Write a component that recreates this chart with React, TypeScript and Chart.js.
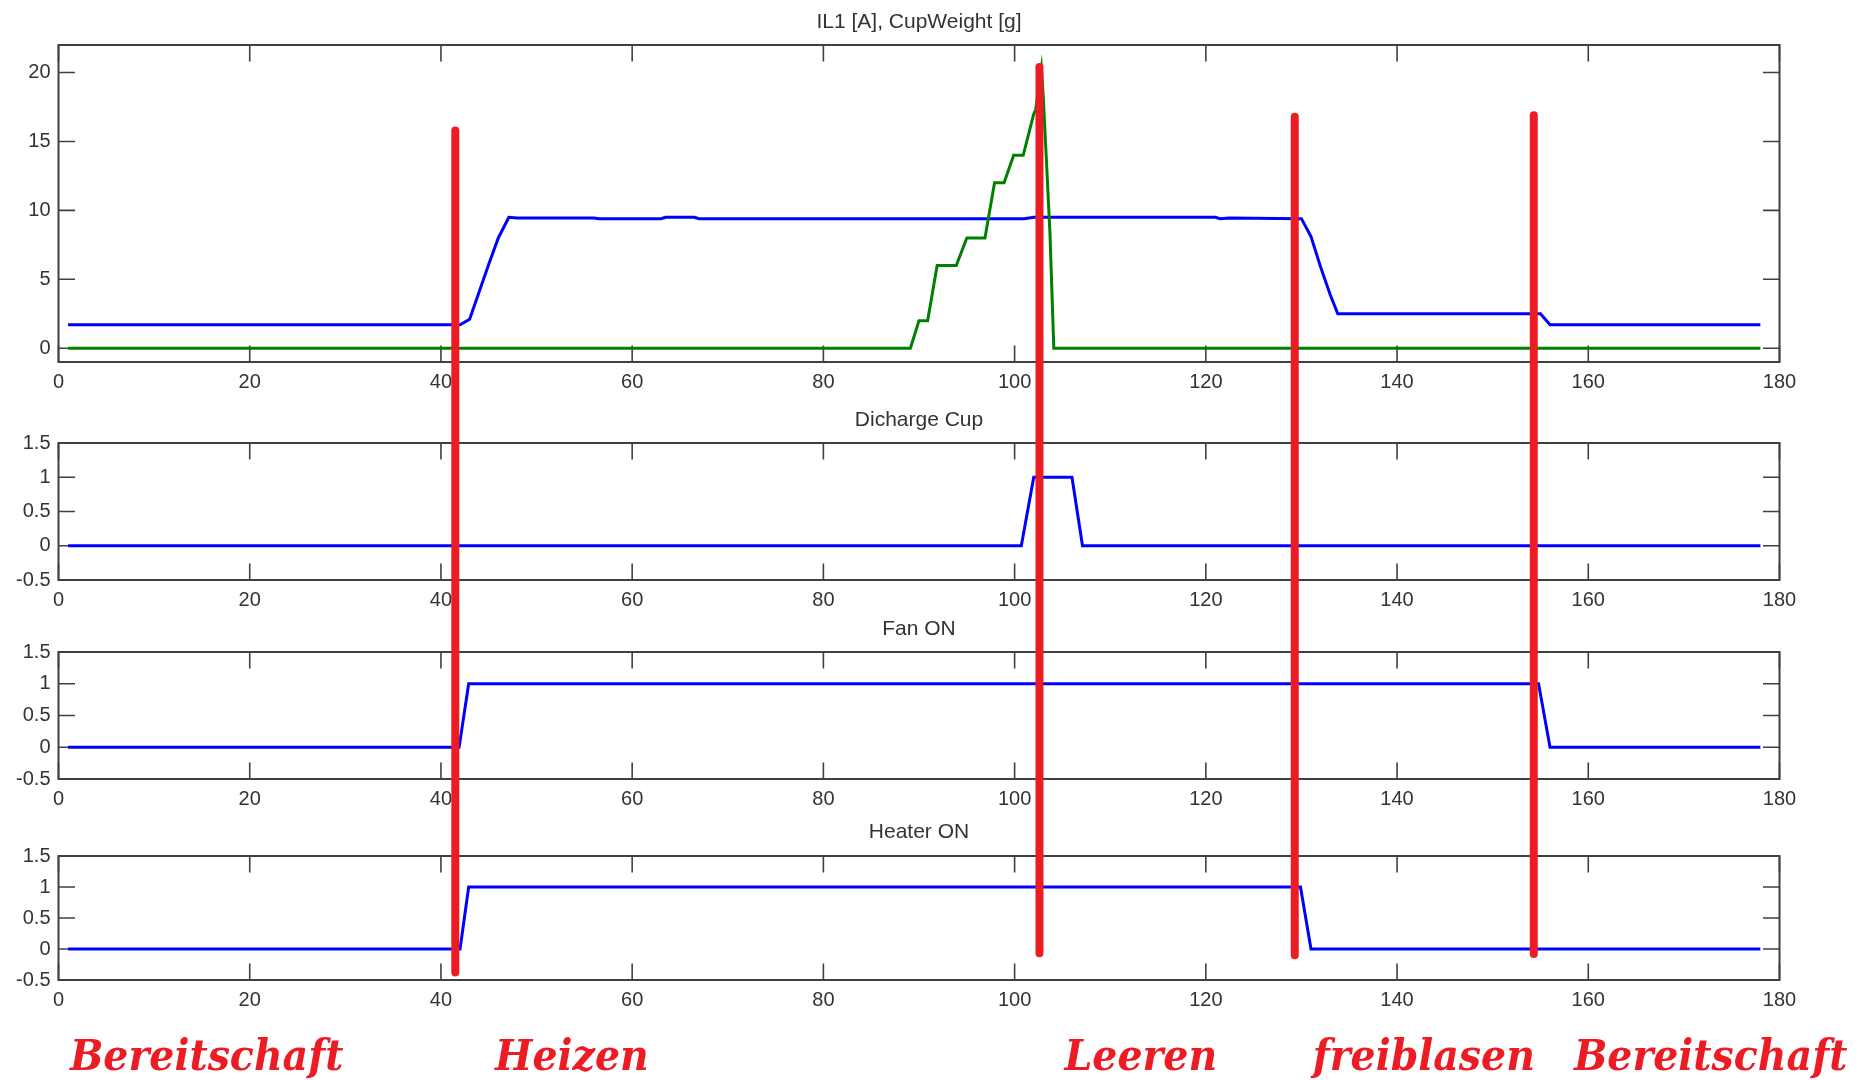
import React, { useEffect, useRef } from 'react';
import { Chart, registerables } from 'chart.js';

Chart.register(...registerables);

// ---------------- data ----------------
const TIME_TICKS = [0, 20, 40, 60, 80, 100, 120, 140, 160, 180];
const IL1_TICKS = [0, 5, 10, 15, 20];
const BINARY_TICKS = [-0.5, 0, 0.5, 1, 1.5];

const PANEL_TITLES = ['IL1 [A], CupWeight [g]', 'Dicharge Cup', 'Fan ON', 'Heater ON'];

// IL1 current [A]
const IL1_TIME = [1, 42, 43, 44, 45, 46, 47.1, 48, 56, 56.5, 63, 63.5, 66.5, 67, 101, 102, 121, 121.5, 122.5, 130, 131, 132, 133, 133.8, 155, 156, 178];
const IL1_VALUES = [1.7, 1.7, 2.1, 4.1, 6.1, 8.0, 9.5, 9.45, 9.45, 9.4, 9.4, 9.5, 9.5, 9.4, 9.4, 9.5, 9.5, 9.4, 9.45, 9.4, 8.1, 5.9, 3.9, 2.5, 2.5, 1.7, 1.7];

// Cup weight [g]
const CUP_TIME = [1, 89.1, 90, 90.9, 91.9, 93.9, 95, 96.9, 97.9, 98.9, 99.9, 100.9, 102, 102.2, 102.8, 103.0, 103.3, 103.7, 104.1, 178];
const CUP_VALUES = [0, 0, 2, 2, 6, 6, 8, 8, 12, 12, 14, 14, 17, 17.3, 20.3, 18.2, 14, 8.3, 0, 0];

const DISCHARGE_TIME = [1, 100.7, 102, 106, 107.1, 178];
const DISCHARGE_VALUES = [0, 0, 1, 1, 0, 0];

const FAN_TIME = [1, 41.9, 42.9, 154.8, 156, 178];
const FAN_VALUES = [0, 0, 1, 1, 0, 0];

const HEATER_TIME = [1, 42, 42.9, 129.9, 131, 178];
const HEATER_VALUES = [0, 0, 1, 1, 0, 0];

// phase markers (red lines): time, top in IL1 units, bottom in Heater units
const PHASE_TIME = [41.5, 102.6, 129.3, 154.3];
const PHASE_TOP = [15.8, 20.4, 16.8, 16.9];
const PHASE_BOTTOM = [-0.38, -0.07, -0.1, -0.08];

const PHASE_LABELS = ['Bereitschaft', 'Heizen', 'Leeren', 'freiblasen', 'Bereitschaft'];
const PHASE_LABEL_TIME = [15.5, 53.7, 113.2, 142.8, 172.8];

// ---------------- layout ----------------
const W = 1860;
const H = 1080;
const PLOT_LEFT = 58.5;
const PLOT_RIGHT = 1779.5;
const HEAD = 45;
const FOOT = 45;
const LABEL_BASELINE = 1070;

const PANELS = [
  { top: 45, bottom: 362, titleGap: 23, yMin: -1, yMax: 22, yTicks: IL1_TICKS },
  { top: 443, bottom: 580, titleGap: 22.5, yMin: -0.5, yMax: 1.5, yTicks: BINARY_TICKS },
  { top: 652, bottom: 779, titleGap: 23, yMin: -0.5, yMax: 1.5, yTicks: BINARY_TICKS },
  { top: 856, bottom: 980, titleGap: 24, yMin: -0.5, yMax: 1.5, yTicks: BINARY_TICKS },
];

const TEXT = '#333333';
const AXIS = '#404040';
const BLUE = '#0000ff';
const GREEN = '#008000';
const RED = 'rgb(237,28,36)';
const TICK_LEN = 16.5;
const FONT_FAMILY = "'Liberation Sans', Arial, sans-serif";

Chart.defaults.font.family = FONT_FAMILY;

function pts(t: number[], v: number[]) {
  return t.map((x, i) => ({ x, y: v[i] }));
}

const matlabAxes = {
  id: 'matlabAxes',
  beforeDatasetsDraw(chart: any, _args: any, opts: any) {
    const { ctx, chartArea: a, scales } = chart;
    ctx.save();
    ctx.strokeStyle = AXIS;
    ctx.lineWidth = 1.6;
    ctx.beginPath();
    for (const t of scales.x.ticks) {
      const px = scales.x.getPixelForValue(t.value);
      ctx.moveTo(px, a.bottom);
      ctx.lineTo(px, a.bottom - TICK_LEN);
      ctx.moveTo(px, a.top);
      ctx.lineTo(px, a.top + TICK_LEN);
    }
    for (const t of scales.y.ticks) {
      const py = scales.y.getPixelForValue(t.value);
      ctx.moveTo(a.left, py);
      ctx.lineTo(a.left + TICK_LEN, py);
      ctx.moveTo(a.right, py);
      ctx.lineTo(a.right - TICK_LEN, py);
    }
    ctx.stroke();
    ctx.lineWidth = 2;
    ctx.strokeRect(a.left, a.top, a.right - a.left, a.bottom - a.top);
    // panel title centred over the plot box
    ctx.fillStyle = TEXT;
    ctx.font = `21px ${FONT_FAMILY}`;
    ctx.textAlign = 'center';
    ctx.textBaseline = 'middle';
    ctx.fillText(opts.title, (a.left + a.right) / 2, a.top - opts.gap);
    ctx.restore();
  },
};

function lineDs(t: number[], v: number[], color: string) {
  return {
    data: pts(t, v),
    borderColor: color,
    backgroundColor: color,
    borderWidth: 3,
    pointRadius: 0,
    tension: 0,
    fill: false,
  };
}

export default function App() {
  const refs = [useRef<HTMLCanvasElement>(null), useRef<HTMLCanvasElement>(null), useRef<HTMLCanvasElement>(null), useRef<HTMLCanvasElement>(null)];
  const overlayRef = useRef<HTMLCanvasElement>(null);

  useEffect(() => {
    const datasetsPerPanel = [
      [lineDs(CUP_TIME, CUP_VALUES, GREEN), lineDs(IL1_TIME, IL1_VALUES, BLUE)],
      [lineDs(DISCHARGE_TIME, DISCHARGE_VALUES, BLUE)],
      [lineDs(FAN_TIME, FAN_VALUES, BLUE)],
      [lineDs(HEATER_TIME, HEATER_VALUES, BLUE)],
    ];
    const charts: any[] = PANELS.map((p, i) => {
      const canvas = refs[i].current!;
      return new Chart(canvas, {
        type: 'line',
        data: { datasets: datasetsPerPanel[i] as any },
        options: {
          responsive: false,
          animation: false,
          events: [],
          layout: { padding: { left: 0, right: W - PLOT_RIGHT, top: HEAD, bottom: 0 } },
          plugins: {
            legend: { display: false },
            tooltip: { enabled: false },
            title: { display: false },
            matlabAxes: { title: PANEL_TITLES[i], gap: p.titleGap },
          },
          scales: {
            x: {
              type: 'linear',
              min: 0,
              max: 180,
              grid: { display: false, drawTicks: false },
              border: { display: false },
              ticks: { color: TEXT, font: { size: 20 }, padding: 8, autoSkip: false, maxRotation: 0, callback: (v: any) => String(v) },
              afterBuildTicks: (s: any) => { s.ticks = TIME_TICKS.map((v) => ({ value: v })); },
              afterFit: (s: any) => { s.height = FOOT; },
            },
            y: {
              type: 'linear',
              min: p.yMin,
              max: p.yMax,
              grid: { display: false, drawTicks: false },
              border: { display: false },
              ticks: { color: TEXT, font: { size: 20 }, padding: 8, autoSkip: false, callback: (v: any) => String(v) },
              afterBuildTicks: (s: any) => { s.ticks = p.yTicks.map((v) => ({ value: v })); },
              afterFit: (s: any) => { s.width = PLOT_LEFT; },
            },
          },
        } as any,
        plugins: [matlabAxes],
      });
    });

    const topChart = charts[0];
    const bottomChart = charts[3];
    const topOffset = PANELS[0].top - HEAD;
    const bottomOffset = PANELS[3].top - HEAD;

    const overlay = new Chart(overlayRef.current!, {
      type: 'scatter',
      data: { datasets: [] },
      options: {
        responsive: false,
        animation: false,
        events: [],
        layout: { padding: { left: PLOT_LEFT, right: W - PLOT_RIGHT, top: 0, bottom: 0 } },
        plugins: { legend: { display: false }, tooltip: { enabled: false } },
        scales: {
          x: { type: 'linear', min: 0, max: 180, display: false },
          y: { type: 'linear', min: 0, max: 1, display: false },
        },
      } as any,
      plugins: [
        {
          id: 'phases',
          afterDraw(chart: any) {
            const ctx = chart.ctx;
            const xs = chart.scales.x;
            ctx.save();
            ctx.strokeStyle = RED;
            ctx.lineWidth = 8;
            ctx.lineCap = 'round';
            PHASE_TIME.forEach((t, i) => {
              const px = xs.getPixelForValue(t);
              const y0 = topChart.scales.y.getPixelForValue(PHASE_TOP[i]) + topOffset;
              const y1 = bottomChart.scales.y.getPixelForValue(PHASE_BOTTOM[i]) + bottomOffset;
              ctx.beginPath();
              ctx.moveTo(px, y0);
              ctx.lineTo(px, y1);
              ctx.stroke();
            });
            ctx.fillStyle = RED;
            ctx.font = "italic bold 42px 'DejaVu Serif'";
            ctx.textAlign = 'center';
            ctx.textBaseline = 'alphabetic';
            PHASE_LABELS.forEach((label, i) => {
              ctx.save();
              ctx.translate(xs.getPixelForValue(PHASE_LABEL_TIME[i]), LABEL_BASELINE);
              ctx.scale(0.94, 1);
              ctx.fillText(label, 0, 0);
              ctx.restore();
            });
            ctx.restore();
          },
        },
      ],
    });

    return () => {
      overlay.destroy();
      charts.forEach((c) => c.destroy());
    };
  }, []);

  return (
    <div style={{ position: 'absolute', left: 0, top: 0, width: W, height: H, background: '#fff', overflow: 'hidden' }}>
      {PANELS.map((p, i) => {
        const h = HEAD + (p.bottom - p.top) + FOOT;
        return (
          <canvas
            key={i}
            ref={refs[i]}
            width={W}
            height={h}
            style={{ position: 'absolute', left: 0, top: p.top - HEAD, width: W, height: h }}
          />
        );
      })}
      <canvas
        ref={overlayRef}
        width={W}
        height={H}
        style={{ position: 'absolute', left: 0, top: 0, width: W, height: H, pointerEvents: 'none' }}
      />
    </div>
  );
}
